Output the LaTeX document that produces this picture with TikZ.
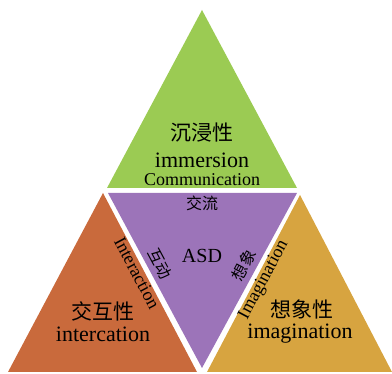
\documentclass[tikz,border=0pt]{standalone}
\usepackage{fontspec}
\setmainfont{Liberation Serif}
\newfontfamily\cjk{Noto Sans CJK SC}
\usetikzlibrary{positioning}
\definecolor{tgreen}{HTML}{9BCB53}
\definecolor{torange}{HTML}{C96A3C}
\definecolor{tgold}{HTML}{D7A440}
\definecolor{tpurple}{HTML}{9C74B9}

\begin{document}
\begin{tikzpicture}[x=1pt, y=-1pt,
    cnbig/.style={font=\cjk\fontsize{21}{23}\selectfont, inner sep=0pt},
    cnsmall/.style={font=\cjk\fontsize{16}{18}\selectfont, inner sep=0pt},
    enbig/.style={font=\fontsize{22}{24}\selectfont, inner sep=0pt},
    enedge/.style={font=\fontsize{18}{20}\selectfont, inner sep=0pt}
]
    \useasboundingbox (0,0) rectangle (392,374);

    % The four faces
    \fill[tgreen] (202,10) -- (107,188) -- (297,188) -- cycle;
    \fill[torange] (103,193) -- (8,372) -- (197,372) -- cycle;
    \fill[tgold] (300,195) -- (207,372) -- (392,372) -- cycle;
    \fill[tpurple] (108,193) -- (297,193) -- (202,368) -- cycle;

    % Top face
    \node[cnbig] (immcn) at (202,133) {沉浸性};
    \node[enbig] (immen) at (202,160) {immersion};
    \node[enedge] (comm) at (202,180) {Communication};

    % Centre face
    \node[cnsmall] (commcn) at (202,203) {交流};
    \node[font=\fontsize{20}{22}\selectfont, inner sep=0pt] (asd) at (202,256) {ASD};
    \node[cnsmall, rotate=-62] (intcn) at (160,264) {互动};
    \node[cnsmall, rotate=62] (imgcn) at (244,265) {想象};

    % Left face
    \node[enedge, rotate=-62] (inter) at (137,273) {Interaction};
    \node[cnbig] (intface) at (103,311) {交互性};
    \node[enbig] (intfaceen) at (103,334) {intercation};

    % Right face
    \node[enedge, rotate=62] (imag) at (264,280) {Imagination};
    \node[cnbig] (imgface) at (302,309) {想象性};
    \node[enbig] (imgfaceen) at (300,334) {imagination};
\end{tikzpicture}
\end{document}
